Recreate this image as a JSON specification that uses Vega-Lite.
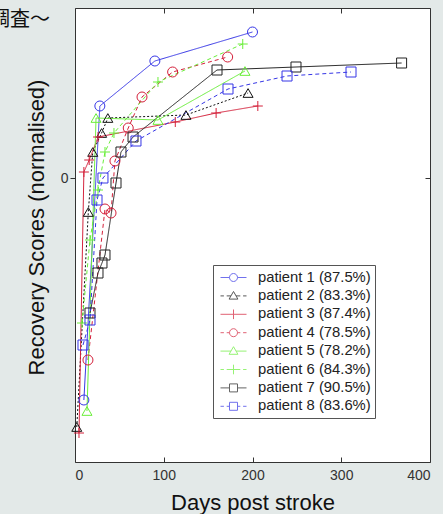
{
  "$schema": "https://vega.github.io/schema/vega-lite/v6.json",
  "width": 355,
  "height": 454,
  "autosize": {"type": "none"},
  "padding": {"left": 75, "top": 8, "right": 13, "bottom": 52},
  "background": "#e3e9e8",
  "title": {"text": "調査～", "anchor": "start", "frame": "group", "dx": -85, "offset": -38, "baseline": "alphabetic", "font": "Noto Sans CJK JP", "fontSize": 20, "fontWeight": "normal", "color": "#111111"},
  "config": {
    "view": {"fill": "white", "stroke": "#333333", "strokeWidth": 1},
    "font": "Liberation Sans",
    "axis": {"grid": false, "domain": false, "labelFont": "Liberation Sans", "labelFontSize": 14, "labelColor": "#333333", "tickColor": "#333333", "titleFont": "Liberation Sans", "titleFontSize": 22, "titleFontWeight": "normal", "titleColor": "#111111"}
  },
  "data": {"values": [
    {"patient": "patient 1 (87.5%)", "day": 10, "score": -2.22},
    {"patient": "patient 1 (87.5%)", "day": 28, "score": 0.72},
    {"patient": "patient 1 (87.5%)", "day": 90, "score": 1.17},
    {"patient": "patient 1 (87.5%)", "day": 200, "score": 1.46},
    {"patient": "patient 2 (83.3%)", "day": 2, "score": -2.49},
    {"patient": "patient 2 (83.3%)", "day": 15, "score": -0.34},
    {"patient": "patient 2 (83.3%)", "day": 20, "score": 0.26},
    {"patient": "patient 2 (83.3%)", "day": 30, "score": 0.45},
    {"patient": "patient 2 (83.3%)", "day": 37, "score": 0.6},
    {"patient": "patient 2 (83.3%)", "day": 125, "score": 0.63},
    {"patient": "patient 2 (83.3%)", "day": 195, "score": 0.85},
    {"patient": "patient 3 (87.4%)", "day": 4.5, "score": -2.55},
    {"patient": "patient 3 (87.4%)", "day": 10, "score": 0.06},
    {"patient": "patient 3 (87.4%)", "day": 16, "score": 0.18},
    {"patient": "patient 3 (87.4%)", "day": 26, "score": 0.41},
    {"patient": "patient 3 (87.4%)", "day": 113, "score": 0.56},
    {"patient": "patient 3 (87.4%)", "day": 159, "score": 0.65},
    {"patient": "patient 3 (87.4%)", "day": 206, "score": 0.72},
    {"patient": "patient 4 (78.5%)", "day": 14.6, "score": -1.82},
    {"patient": "patient 4 (78.5%)", "day": 33.8, "score": -0.31},
    {"patient": "patient 4 (78.5%)", "day": 40.6, "score": -0.35},
    {"patient": "patient 4 (78.5%)", "day": 45, "score": 0.17},
    {"patient": "patient 4 (78.5%)", "day": 60, "score": 0.5},
    {"patient": "patient 4 (78.5%)", "day": 75.5, "score": 0.81},
    {"patient": "patient 4 (78.5%)", "day": 110, "score": 1.06},
    {"patient": "patient 4 (78.5%)", "day": 172, "score": 1.21},
    {"patient": "patient 5 (78.2%)", "day": 13.5, "score": -2.33},
    {"patient": "patient 5 (78.2%)", "day": 23.7, "score": 0.6},
    {"patient": "patient 5 (78.2%)", "day": 93.5, "score": 0.58},
    {"patient": "patient 5 (78.2%)", "day": 191.5, "score": 1.07},
    {"patient": "patient 6 (84.3%)", "day": 7.9, "score": -1.45},
    {"patient": "patient 6 (84.3%)", "day": 16.9, "score": -0.62},
    {"patient": "patient 6 (84.3%)", "day": 25.9, "score": -0.12},
    {"patient": "patient 6 (84.3%)", "day": 33.8, "score": 0.26},
    {"patient": "patient 6 (84.3%)", "day": 43.9, "score": 0.45},
    {"patient": "patient 6 (84.3%)", "day": 93.5, "score": 0.96},
    {"patient": "patient 6 (84.3%)", "day": 189, "score": 1.34},
    {"patient": "patient 7 (90.5%)", "day": 16.9, "score": -1.35},
    {"patient": "patient 7 (90.5%)", "day": 25.9, "score": -0.95},
    {"patient": "patient 7 (90.5%)", "day": 30.4, "score": -0.85},
    {"patient": "patient 7 (90.5%)", "day": 33.8, "score": -0.77},
    {"patient": "patient 7 (90.5%)", "day": 46.2, "score": -0.05},
    {"patient": "patient 7 (90.5%)", "day": 51.8, "score": 0.26},
    {"patient": "patient 7 (90.5%)", "day": 65.4, "score": 0.41},
    {"patient": "patient 7 (90.5%)", "day": 160, "score": 1.08},
    {"patient": "patient 7 (90.5%)", "day": 249, "score": 1.11},
    {"patient": "patient 7 (90.5%)", "day": 368, "score": 1.15},
    {"patient": "patient 8 (83.6%)", "day": 9, "score": -1.67},
    {"patient": "patient 8 (83.6%)", "day": 16.9, "score": -1.42},
    {"patient": "patient 8 (83.6%)", "day": 24.8, "score": -0.22},
    {"patient": "patient 8 (83.6%)", "day": 31.5, "score": 0.0},
    {"patient": "patient 8 (83.6%)", "day": 68.7, "score": 0.37},
    {"patient": "patient 8 (83.6%)", "day": 172.4, "score": 0.89},
    {"patient": "patient 8 (83.6%)", "day": 238.9, "score": 1.02},
    {"patient": "patient 8 (83.6%)", "day": 311, "score": 1.06}
  ]},
  "layer": [
    {
      "mark": {"type": "line", "strokeWidth": 1},
      "encoding": {
        "x": {"field": "day", "type": "quantitative", "scale": {"domain": [0, 400], "nice": false, "zero": false},
              "axis": {"orient": "bottom", "values": [0, 100, 200, 300, 400], "tickSize": -5, "labelPadding": 11, "title": "Days post stroke", "titlePadding": 10}},
        "y": {"field": "score", "type": "quantitative", "scale": {"domain": [-2.84, 1.7], "nice": false, "zero": false},
              "axis": {"orient": "left", "values": [0], "tickSize": 5, "labelPadding": 2, "title": "Recovery Scores (normalised)", "titleX": -27, "titleY": 219, "titleAngle": 270, "titleBaseline": "bottom", "titleAlign": "center"}},
        "color": {"field": "patient", "type": "nominal", "legend": null,
                  "scale": {"domain": ["patient 1 (87.5%)", "patient 2 (83.3%)", "patient 3 (87.4%)", "patient 4 (78.5%)", "patient 5 (78.2%)", "patient 6 (84.3%)", "patient 7 (90.5%)", "patient 8 (83.6%)"],
                            "range": ["#3636e6", "#111111", "#d4203a", "#d4203a", "#6aee3a", "#6aee3a", "#222222", "#3636e6"]}},
        "strokeDash": {"field": "patient", "type": "nominal", "legend": null,
                  "scale": {"domain": ["patient 1 (87.5%)", "patient 2 (83.3%)", "patient 3 (87.4%)", "patient 4 (78.5%)", "patient 5 (78.2%)", "patient 6 (84.3%)", "patient 7 (90.5%)", "patient 8 (83.6%)"],
                            "range": [[1, 0], [2, 2], [1, 0], [4, 3], [1, 0], [4, 3], [1, 0], [4, 3]]}}
      }
    },
    {
      "mark": {"type": "point", "filled": false, "size": 100, "strokeWidth": 1, "opacity": 1},
      "encoding": {
        "x": {"field": "day", "type": "quantitative",
              "axis": {"orient": "top", "values": [0, 100, 200, 300, 400], "tickSize": -5, "labels": false, "title": null}},
        "y": {"field": "score", "type": "quantitative",
              "axis": {"orient": "right", "values": [0], "tickSize": -5, "labels": false, "title": null}},
        "color": {"field": "patient", "type": "nominal", "legend": null,
                  "scale": {"domain": ["patient 1 (87.5%)", "patient 2 (83.3%)", "patient 3 (87.4%)", "patient 4 (78.5%)", "patient 5 (78.2%)", "patient 6 (84.3%)", "patient 7 (90.5%)", "patient 8 (83.6%)"],
                            "range": ["#3636e6", "#111111", "#d4203a", "#d4203a", "#6aee3a", "#6aee3a", "#222222", "#3636e6"]}},
        "shape": {"field": "patient", "type": "nominal", "legend": null,
                  "scale": {"domain": ["patient 1 (87.5%)", "patient 2 (83.3%)", "patient 3 (87.4%)", "patient 4 (78.5%)", "patient 5 (78.2%)", "patient 6 (84.3%)", "patient 7 (90.5%)", "patient 8 (83.6%)"],
                            "range": ["circle", "triangle-up", "M-1,0L1,0M0,-1L0,1", "circle", "triangle-up", "M-1,0L1,0M0,-1L0,1", "square", "square"]}}
      }
    },
    {
      "transform": [{"filter": "false"}],
      "mark": {"type": "point", "filled": false, "strokeWidth": 1},
      "encoding": {
        "x": {"field": "day", "type": "quantitative", "axis": null},
        "y": {"field": "score", "type": "quantitative", "axis": null},
        "color": {"field": "patient", "type": "nominal",
                  "scale": {"domain": ["patient 1 (87.5%)", "patient 2 (83.3%)", "patient 3 (87.4%)", "patient 4 (78.5%)", "patient 5 (78.2%)", "patient 6 (84.3%)", "patient 7 (90.5%)", "patient 8 (83.6%)"],
                            "range": ["#3636e6", "#111111", "#d4203a", "#d4203a", "#6aee3a", "#6aee3a", "#222222", "#3636e6"]},
                  "legend": {"title": null, "orient": "none", "legendX": 138, "legendY": 257, "padding": 4, "strokeColor": "#555555", "fillColor": "white", "cornerRadius": 0,
                             "labelFont": "Liberation Sans", "labelFontSize": 14.8, "labelColor": "#222222", "symbolSize": 256, "symbolStrokeWidth": 1, "symbolOffset": 8, "labelOffset": 16, "rowPadding": 2.4}},
        "shape": {"field": "patient", "type": "nominal",
                  "scale": {"domain": ["patient 1 (87.5%)", "patient 2 (83.3%)", "patient 3 (87.4%)", "patient 4 (78.5%)", "patient 5 (78.2%)", "patient 6 (84.3%)", "patient 7 (90.5%)", "patient 8 (83.6%)"],
                            "range": ["M-1.625,0L-0.5,0M0.5,0L1.625,0M0.5,0A0.5,0.5,0,1,1,-0.5,0A0.5,0.5,0,1,1,0.5,0", "M-1.625,0L-1.2,0M-0.85,0L-0.32,0M0.32,0L0.85,0M1.2,0L1.625,0M0,-0.55L0.55,0.4L-0.55,0.4Z", "M-1.625,0L1.625,0M0,-0.6L0,0.6", "M-1.625,0L-1.2,0M-0.85,0L-0.5,0M0.5,0L0.85,0M1.2,0L1.625,0M0.5,0A0.5,0.5,0,1,1,-0.5,0A0.5,0.5,0,1,1,0.5,0", "M-1.625,0L-0.32,0M0.32,0L1.625,0M0,-0.55L0.55,0.4L-0.55,0.4Z", "M-1.625,0L-1.2,0M-0.85,0L0.85,0M1.2,0L1.625,0M0,-0.6L0,0.6", "M-1.625,0L-0.5,0M0.5,0L1.625,0M-0.5,-0.5H0.5V0.5H-0.5Z", "M-1.625,0L-1.2,0M-0.85,0L-0.5,0M0.5,0L0.85,0M1.2,0L1.625,0M-0.5,-0.5H0.5V0.5H-0.5Z"]},
                  "legend": {"title": null, "orient": "none", "legendX": 138, "legendY": 257, "padding": 4, "strokeColor": "#555555", "fillColor": "white", "cornerRadius": 0,
                             "labelFont": "Liberation Sans", "labelFontSize": 14.8, "labelColor": "#222222", "symbolSize": 256, "symbolStrokeWidth": 1, "symbolOffset": 8, "labelOffset": 16, "rowPadding": 2.4}}
      }
    }
  ],
  "resolve": {"axis": {"x": "independent", "y": "independent"}, "scale": {"color": "independent", "shape": "independent"}}
}
